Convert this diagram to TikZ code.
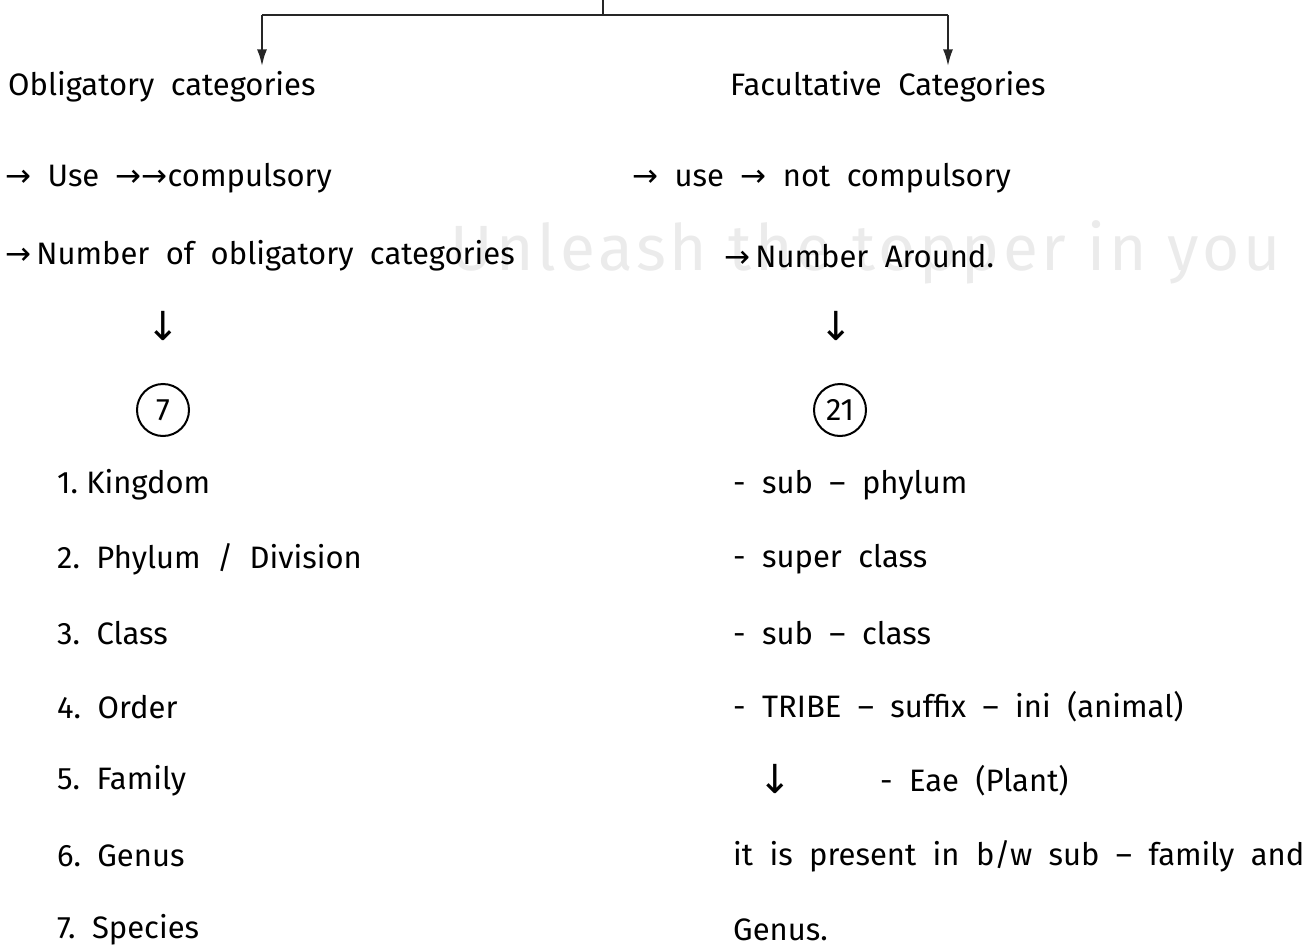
\documentclass[tikz,border=0pt]{standalone}
\usepackage{fontspec}
\setmainfont{Fira Sans}
\newfontfamily\sym{DejaVu Sans}
\newfontfamily\wmfont[LetterSpace=6]{Fira Sans}
\usetikzlibrary{arrows.meta}
\begin{document}
\begin{tikzpicture}[x=1pt,y=-1pt,
  txt/.style={anchor=west,inner sep=0pt,font=\fontsize{31}{36}\selectfont},
  conn/.style={line width=2.4pt,draw=black!85},
  tip/.style={conn,-{Latex[length=17pt,width=10pt]}},
  circ/.style={circle,draw,line width=2pt,minimum size=52pt,inner sep=0pt,font=\fontsize{31}{36}\selectfont},
  arrsym/.style={inner sep=0pt,font=\sym\fontsize{40}{44}\selectfont},
  wm/.style={anchor=west,inner sep=0pt,text=gray!16,font=\wmfont\fontsize{64}{70}\selectfont}]
\useasboundingbox (0,0) rectangle (1311,947);
% watermark
\node[wm] (wmark) at (450,252) {Unleash the topper in you};
% headings
\node[txt] (obl) at (8,87) {Obligatory\ \ categories};
\node[txt] (fac) at (730,87) {Facultative\ \ Categories};
% top connector
\coordinate (top) at (603,0);
\coordinate (jm) at (603,15);
\coordinate (jl) at (262,15);
\coordinate (jr) at (948,15);
\draw[conn] (top) -- (jm);
\draw[conn] (jl) -- (jr);
\draw[tip] (jl) -- ([yshift=5pt]jl |- obl.north);
\draw[tip] (jr) -- ([yshift=5pt]jr |- fac.north);
% left column
\node[txt] (l1) at (5,178) {{\sym →}\ \ Use\ \ {\sym →→}compulsory};
\node[txt] (l2) at (5,256) {{\sym →}\,Number\ \ of\ \ obligatory\ \ categories};
\node[arrsym] (ld) at (163,326) {↓};
\node[circ] (c7) at (163,410) {7};
\node[txt] (a1) at (57,485) {1.\ Kingdom};
\node[txt] (a2) at (57,559) {2.\ \ Phylum\ \ /\ \ Division};
\node[txt] (a3) at (57,633) {3.\ \ Class};
\node[txt] (a4) at (57,707) {4.\ \ Order};
\node[txt] (a5) at (57,781) {5.\ \ Family};
\node[txt] (a6) at (57,856) {6.\ \ Genus};
\node[txt] (a7) at (57,930) {7.\ \ Species};
% right column
\node[txt] (r1) at (632,178) {{\sym →}\ \ use\ \ {\sym →}\ \ not\ \ compulsory};
\node[txt] (r2) at (724,256) {{\sym →}\,Number\ \ Around.};
\node[arrsym] (rd) at (836,326) {↓};
\node[circ] (c21) at (840,410) {21};
\node[txt] (b1) at (733,485) {-\ \ sub\ \ –\ \ phylum};
\node[txt] (b2) at (733,559) {-\ \ super\ \ class};
\node[txt] (b3) at (733,633) {-\ \ sub\ \ –\ \ class};
\node[txt] (b4) at (733,707) {-\ \ TRIBE\ \ –\ \ suffix\ \ –\ \ ini\ \ (animal)};
\node[arrsym] (bd) at (775,779) {↓};
\node[txt] (b5) at (880,781) {-\ \ Eae\ \ (Plant)};
\node[txt] (b6) at (733,856) {it\ \ is\ \ present\ \ in\ \ b/w\ \ sub\ \ –\ \ family\ \ and};
\node[txt] (b7) at (733,930) {Genus.};
\end{tikzpicture}
\end{document}
